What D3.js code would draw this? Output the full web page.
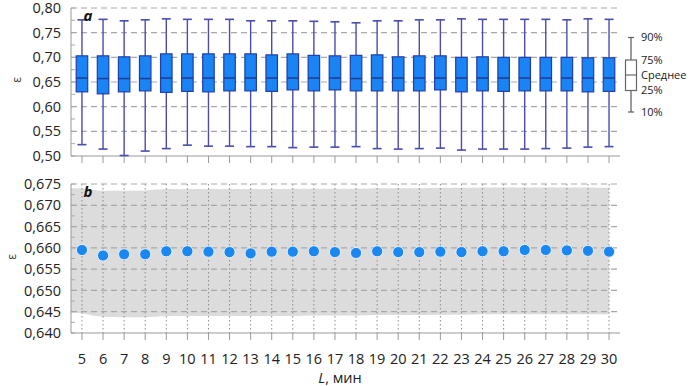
<!DOCTYPE html>
<html>
<head>
<meta charset="utf-8">
<script src="https://cdn.jsdelivr.net/npm/d3@7"></script>
<style>
  body { margin: 0; background: #fff; }
  svg { display: block; font-family: "Open Sans", "Noto Sans", sans-serif; }
</style>
</head>
<body>
<svg id="chart" width="688" height="386"></svg>
<script>
// L, minutes
const lengths = [5, 6, 7, 8, 9, 10, 11, 12, 13, 14, 15, 16, 17, 18, 19, 20, 21, 22, 23, 24, 25, 26, 27, 28, 29, 30];

// panel a: percentiles of epsilon for every L
const p90 = [0.776, 0.777, 0.774, 0.776, 0.778, 0.777, 0.777, 0.777, 0.774, 0.774, 0.774, 0.773, 0.772, 0.770, 0.774, 0.774, 0.776, 0.776, 0.778, 0.777, 0.777, 0.777, 0.777, 0.776, 0.778, 0.777];
const p75 = [0.703, 0.703, 0.701, 0.703, 0.707, 0.707, 0.707, 0.707, 0.707, 0.705, 0.707, 0.704, 0.703, 0.704, 0.705, 0.701, 0.703, 0.703, 0.700, 0.701, 0.700, 0.700, 0.700, 0.700, 0.699, 0.699];
const p50 = [0.658, 0.657, 0.657, 0.657, 0.658, 0.658, 0.658, 0.658, 0.658, 0.658, 0.658, 0.658, 0.658, 0.657, 0.658, 0.658, 0.658, 0.658, 0.658, 0.658, 0.658, 0.658, 0.658, 0.658, 0.658, 0.658];
const p25 = [0.630, 0.626, 0.630, 0.632, 0.629, 0.631, 0.630, 0.632, 0.632, 0.631, 0.634, 0.632, 0.634, 0.632, 0.632, 0.632, 0.632, 0.634, 0.630, 0.632, 0.631, 0.632, 0.632, 0.632, 0.630, 0.631];
const p10 = [0.523, 0.514, 0.501, 0.510, 0.515, 0.522, 0.520, 0.520, 0.519, 0.519, 0.517, 0.518, 0.518, 0.519, 0.515, 0.514, 0.515, 0.516, 0.512, 0.514, 0.514, 0.514, 0.515, 0.516, 0.518, 0.519];

// panel b: mean epsilon and the grey band around it
const meanEps = [0.6595, 0.6582, 0.6585, 0.6585, 0.6592, 0.6592, 0.6591, 0.6590, 0.6587, 0.6591, 0.6591, 0.6592, 0.6590, 0.6588, 0.6592, 0.6590, 0.6590, 0.6591, 0.6590, 0.6592, 0.6592, 0.6595, 0.6595, 0.6594, 0.6593, 0.6591];
const bandTop = [0.6740, 0.6734, 0.6734, 0.6735, 0.6738, 0.6738, 0.6738, 0.6738, 0.6738, 0.6738, 0.6739, 0.6739, 0.6739, 0.6739, 0.6740, 0.6740, 0.6740, 0.6741, 0.6741, 0.6742, 0.6742, 0.6742, 0.6742, 0.6742, 0.6742, 0.6741];
const bandBottom = [0.6446, 0.6438, 0.6437, 0.6437, 0.6440, 0.6440, 0.6440, 0.6440, 0.6440, 0.6440, 0.6440, 0.6441, 0.6441, 0.6441, 0.6442, 0.6442, 0.6442, 0.6443, 0.6443, 0.6444, 0.6444, 0.6444, 0.6444, 0.6444, 0.6444, 0.6444];

const ticksA = [0.50, 0.55, 0.60, 0.65, 0.70, 0.75, 0.80];
const ticksB = [0.640, 0.645, 0.650, 0.655, 0.660, 0.665, 0.670, 0.675];
const legendLabels = ["90%", "75%", "Среднее", "25%", "10%"];

const svg = d3.select("#chart");
const comma = (digits) => (v) => v.toFixed(digits).replace(".", ",");

const x = d3.scaleLinear().domain([4.48, 30.52]).range([71, 620]);
const yA = d3.scaleLinear().domain([0.50, 0.80]).range([156, 8]);
const yB = d3.scaleLinear().domain([0.640, 0.675]).range([333, 184]);

function drawFrame(y, ticks, digits, minorStep, letter, epsY) {
  const g = svg.append("g");
  const [y0, y1] = y.range();

  // horizontal dashed grid
  g.selectAll(".hgrid")
    .data(ticks.slice(1))
    .enter()
    .append("line")
    .attr("x1", 71).attr("x2", 620)
    .attr("y1", (d) => y(d)).attr("y2", (d) => y(d))
    .attr("stroke", "#a8a8a8")
    .attr("stroke-width", 1.2)
    .attr("stroke-dasharray", "6,4");

  // minor ticks inside left axis
  const minor = d3.range(ticks[0], ticks[ticks.length - 1] + minorStep / 2, minorStep);
  g.selectAll(".minor")
    .data(minor)
    .enter()
    .append("line")
    .attr("x1", 71).attr("x2", 75)
    .attr("y1", (d) => y(d)).attr("y2", (d) => y(d))
    .attr("stroke", "#aaa");

  // left axis & bottom axis
  g.append("line").attr("x1", 71).attr("x2", 71).attr("y1", y0).attr("y2", y1).attr("stroke", "#999");
  g.append("line").attr("x1", 71).attr("x2", 620).attr("y1", y0).attr("y2", y0).attr("stroke", "#999");

  // x ticks below axis
  g.selectAll(".xtick")
    .data(lengths)
    .enter()
    .append("line")
    .attr("x1", (d) => x(d)).attr("x2", (d) => x(d))
    .attr("y1", y0).attr("y2", y0 + 7)
    .attr("stroke", "#999");

  // y tick labels
  g.selectAll(".ylab")
    .data(ticks)
    .enter()
    .append("text")
    .attr("x", 61)
    .attr("y", (d) => y(d))
    .attr("dy", "0.35em")
    .attr("text-anchor", "end")
    .attr("font-size", 14.5)
    .attr("fill", "#222")
    .text(comma(digits));

  g.append("text")
    .attr("transform", `translate(${digits === 2 ? 17 : 12},${epsY}) rotate(-90)`)
    .attr("text-anchor", "middle")
    .attr("dy", "0.35em")
    .attr("font-size", 12)
    .attr("fill", "#333")
    .text("ε");

  return g;
}

// ---------- panel b background first (band under grid) ----------
const bandData = lengths.map((L, i) => ({ L, top: bandTop[i], bottom: bandBottom[i] }));
bandData.unshift({ L: x.domain()[0], top: bandTop[0], bottom: bandBottom[0] + 0.0002 });
svg.append("path")
  .datum(bandData)
  .attr("fill", "#dcdcdc")
  .attr("d", d3.area()
    .curve(d3.curveMonotoneX)
    .x((d) => x(d.L))
    .y0((d) => yB(d.bottom))
    .y1((d) => yB(d.top)));

// vertical dotted grid in panel b
svg.append("g")
  .selectAll("line")
  .data(lengths)
  .enter()
  .append("line")
  .attr("x1", (d) => x(d)).attr("x2", (d) => x(d))
  .attr("y1", yB(0.675)).attr("y2", yB(0.640))
  .attr("stroke", "#8c8c8c")
  .attr("stroke-dasharray", "1.5,2.5");

drawFrame(yA, ticksA, 2, 0.025, "a", 80);
drawFrame(yB, ticksB, 3, 0.0025, "b", 257);

// ---------- panel a boxes ----------
const boxes = lengths.map((L, i) => ({ L, p10: p10[i], p25: p25[i], p50: p50[i], p75: p75[i], p90: p90[i] }));
const gBox = svg.append("g");
const boxW = 11.5, capW = 9;

gBox.selectAll(".whisker")
  .data(boxes)
  .enter()
  .append("line")
  .attr("x1", (d) => x(d.L)).attr("x2", (d) => x(d.L))
  .attr("y1", (d) => yA(d.p90)).attr("y2", (d) => yA(d.p10))
  .attr("stroke", "#4a4cb0").attr("stroke-width", 1.4);

["p90", "p10"].forEach((k) => {
  gBox.selectAll(".cap-" + k)
    .data(boxes)
    .enter()
    .append("line")
    .attr("x1", (d) => x(d.L) - capW / 2).attr("x2", (d) => x(d.L) + capW / 2)
    .attr("y1", (d) => yA(d[k])).attr("y2", (d) => yA(d[k]))
    .attr("stroke", "#4a4cb0").attr("stroke-width", 1.6);
});

gBox.selectAll("rect")
  .data(boxes)
  .enter()
  .append("rect")
  .attr("x", (d) => x(d.L) - boxW / 2)
  .attr("width", boxW)
  .attr("y", (d) => yA(d.p75))
  .attr("height", (d) => yA(d.p25) - yA(d.p75))
  .attr("fill", "#1a84f5")
  .attr("stroke", "#1f3fa8")
  .attr("stroke-width", 1.2);

gBox.selectAll(".median")
  .data(boxes)
  .enter()
  .append("line")
  .attr("x1", (d) => x(d.L) - boxW / 2).attr("x2", (d) => x(d.L) + boxW / 2)
  .attr("y1", (d) => yA(d.p50)).attr("y2", (d) => yA(d.p50))
  .attr("stroke", "#1f3a90").attr("stroke-width", 1.5);

// ---------- panel b points ----------
svg.append("g")
  .selectAll("circle")
  .data(lengths)
  .enter()
  .append("circle")
  .attr("cx", (d) => x(d))
  .attr("cy", (d, i) => yB(meanEps[i]))
  .attr("r", 5.6)
  .attr("fill", "#1a88f0")
  .attr("stroke", "#e8f2ff")
  .attr("stroke-width", 1);

// x tick labels
svg.append("g")
  .selectAll("text")
  .data(lengths)
  .enter()
  .append("text")
  .attr("x", (d) => x(d))
  .attr("y", 359)
  .attr("dy", "0.35em")
  .attr("text-anchor", "middle")
  .attr("font-size", 14.5)
  .attr("fill", "#222")
  .text((d) => d);

const xTitle = svg.append("text")
  .attr("x", 340)
  .attr("y", 378)
  .attr("dy", "0.35em")
  .attr("text-anchor", "middle")
  .attr("font-size", 14.5)
  .attr("fill", "#222");
xTitle.append("tspan").attr("font-style", "italic").text("L");
xTitle.append("tspan").text(", мин");

// panel letters
[["a", yA(0.80) + 8], ["b", yB(0.675) + 8]].forEach(([t, yy]) => {
  svg.append("text")
    .attr("x", 88).attr("y", yy)
    .attr("dy", "0.35em")
    .attr("text-anchor", "middle")
    .attr("font-size", 15)
    .attr("font-style", "italic")
    .attr("font-weight", "bold")
    .attr("fill", "#111")
    .text(t);
});

// ---------- legend ----------
const leg = svg.append("g");
const legX = 631, legVals = [0.735, 0.711, 0.695, 0.674, 0.645];
// legend uses panel a scale for its vertical layout
const legY = d3.scaleLinear().domain([0, 4]).range([37.5, 112]);
const legPos = [legY(0), 60, 75, 90.5, legY(4)];
leg.append("line").attr("x1", legX).attr("x2", legX).attr("y1", legPos[0]).attr("y2", legPos[4]).attr("stroke", "#666").attr("stroke-width", 1.3);
[legPos[0], legPos[4]].forEach((yy) => {
  leg.append("line").attr("x1", legX - 3).attr("x2", legX + 3).attr("y1", yy).attr("y2", yy).attr("stroke", "#666").attr("stroke-width", 1.3);
});
leg.append("rect").attr("x", legX - 5.5).attr("y", legPos[1]).attr("width", 11).attr("height", legPos[3] - legPos[1])
  .attr("fill", "#fff").attr("stroke", "#666").attr("stroke-width", 1.2);
leg.append("line").attr("x1", legX - 5.5).attr("x2", legX + 5.5).attr("y1", legPos[2]).attr("y2", legPos[2]).attr("stroke", "#666").attr("stroke-width", 1.2);
leg.selectAll("text")
  .data(legendLabels)
  .enter()
  .append("text")
  .attr("x", 641)
  .attr("y", (d, i) => legPos[i])
  .attr("dy", "0.35em")
  .attr("font-size", 11)
  .attr("fill", "#222")
  .text((d) => d);
</script>
</body>
</html>
